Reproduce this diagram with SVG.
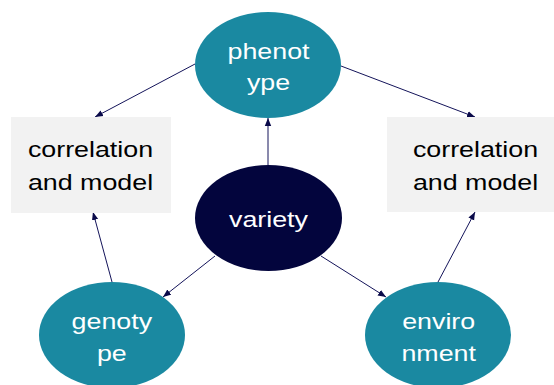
<svg xmlns="http://www.w3.org/2000/svg" width="554" height="385" viewBox="0 0 554 385">
  <defs>
    <marker id="arrow" viewBox="0 0 10 10" refX="10" refY="5" markerWidth="8" markerHeight="8" markerUnits="userSpaceOnUse" orient="auto">
      <path d="M0,1 L10,5 L0,9 Z" fill="#0a0a4a"/>
    </marker>
  </defs>
  <style>
    .teal { fill: #1a89a1; }
    .navy { fill: #03053d; }
    .box { fill: #f2f2f2; }
    .light { fill: #ffffff; font-family: "Liberation Sans", Arial, sans-serif; font-size: 22px; text-anchor: middle; }
    .dark { fill: #000000; font-family: "Liberation Sans", Arial, sans-serif; font-size: 22px; text-anchor: middle; }
    .link { stroke: #14145a; stroke-width: 1; fill: none; marker-end: url(#arrow); }
  </style>
  <rect width="554" height="385" fill="#ffffff"/>

  <g id="connectors">
    <line class="link" x1="195" y1="64" x2="95" y2="117"/>
    <line class="link" x1="341" y1="66" x2="475" y2="117"/>
    <line class="link" x1="268" y1="165" x2="268" y2="118"/>
    <line class="link" x1="112" y1="282" x2="93" y2="212"/>
    <line class="link" x1="215" y1="256" x2="163" y2="297"/>
    <line class="link" x1="321" y1="256" x2="386" y2="297"/>
    <line class="link" x1="438" y1="282" x2="475" y2="212"/>
  </g>

  <!-- labels are drawn wide: 22px type stretched 1.22x horizontally -->
  <g id="model-left">
    <rect class="box" x="11" y="117" width="160" height="96"/>
    <g transform="matrix(1.22 0 0 1 90.5 0)">
      <text class="dark" x="0" y="157.5">correlation</text>
      <text class="dark" x="0" y="190.5">and model</text>
    </g>
  </g>

  <g id="model-right">
    <rect class="box" x="387" y="117" width="167" height="95"/>
    <g transform="matrix(1.22 0 0 1 475.5 0)">
      <text class="dark" x="0" y="157.5">correlation</text>
      <text class="dark" x="0" y="190.5">and model</text>
    </g>
  </g>

  <g id="phenotype">
    <ellipse class="teal" cx="268" cy="65" rx="73" ry="53"/>
    <g transform="matrix(1.22 0 0 1 268.5 0)">
      <text class="light" x="0" y="59">phenot</text>
      <text class="light" x="0" y="90">ype</text>
    </g>
  </g>

  <g id="variety">
    <ellipse class="navy" cx="268.5" cy="218" rx="73.5" ry="53"/>
    <g transform="matrix(1.22 0 0 1 268.5 0)">
      <text class="light" x="0" y="227.5">variety</text>
    </g>
  </g>

  <g id="genotype">
    <ellipse class="teal" cx="112" cy="335" rx="73" ry="53"/>
    <g transform="matrix(1.22 0 0 1 111.8 0)">
      <text class="light" x="0" y="329.5">genoty</text>
      <text class="light" x="0" y="361">pe</text>
    </g>
  </g>

  <g id="environment">
    <ellipse class="teal" cx="438" cy="335" rx="73" ry="53"/>
    <g transform="matrix(1.22 0 0 1 438.7 0)">
      <text class="light" x="0" y="329.5">enviro</text>
      <text class="light" x="0" y="361">nment</text>
    </g>
  </g>
</svg>
